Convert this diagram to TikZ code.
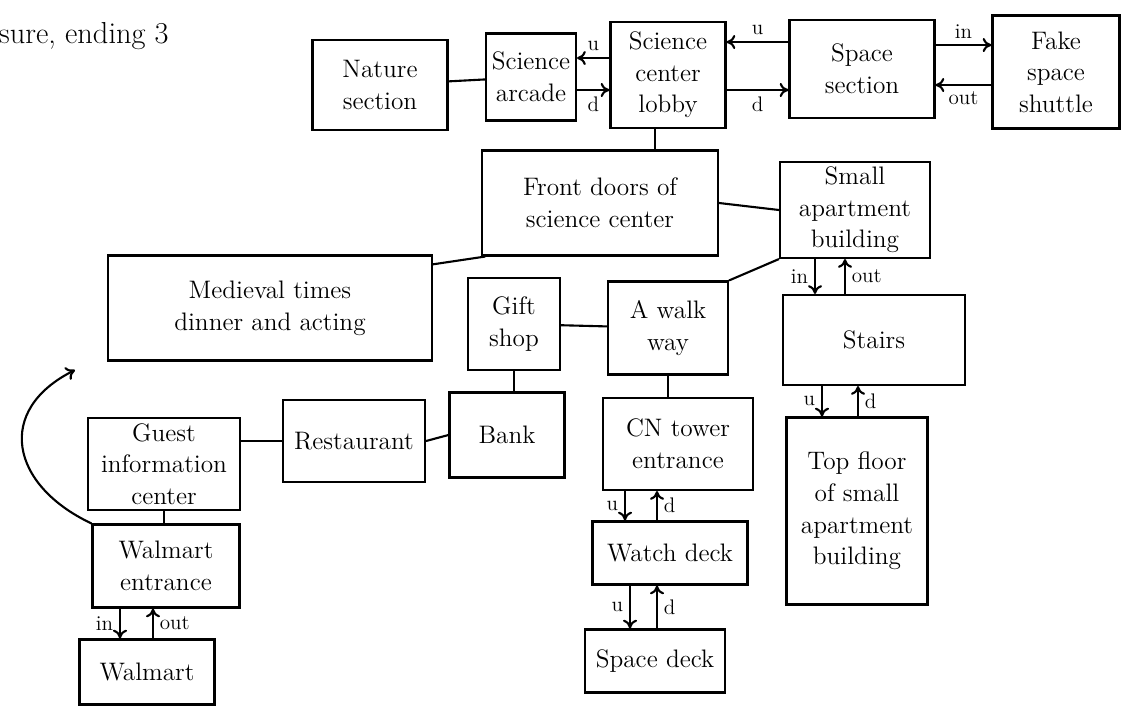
\documentclass[tikz,border=0pt]{standalone}
\usepackage{tikz}
\usetikzlibrary{arrows.meta}

\begin{document}
\begin{tikzpicture}[x=0.02cm, y=-0.02cm, line width=1.2pt,
	room/.style={draw, align=center, font=\Large, inner sep=2pt},
	arr/.style={-{To[length=5pt,width=8pt]}},
	every label/.style={font=\large}]
	\useasboundingbox (0,0) rectangle (1134,714);
	\node[anchor=west, font=\LARGE] (note) at (-8,36) {sure, ending 3};
	% science center
	\node[room, minimum width=2.7cm, minimum height=1.8cm] (nature) at (380,85) {Nature\\section};
	\node[room, minimum width=1.8cm, minimum height=1.74cm] (arcade) at (531,77) {Science\\arcade};
	\node[room, minimum width=2.3cm, minimum height=2.12cm] (lobby) at (668,75) {Science\\center\\lobby};
	\node[room, minimum width=2.9cm, minimum height=1.96cm] (space) at (862,69) {Space\\section};
	\node[room, minimum width=2.54cm, minimum height=2.26cm] (shuttle) at (1056,72) {Fake\\space\\shuttle};
	\node[room, minimum width=4.72cm, minimum height=2.1cm] (front) at (600,203) {Front doors of\\science center};
	\node[room, minimum width=3cm, minimum height=1.92cm] (apart) at (855,210) {Small\\apartment\\building};
	\node[room, minimum width=6.48cm, minimum height=2.1cm] (medieval) at (270,308) {Medieval times\\dinner and acting};
	\node[room, minimum width=1.84cm, minimum height=1.84cm] (gift) at (514,324) {Gift\\shop};
	\node[room, minimum width=2.4cm, minimum height=1.86cm] (walkway) at (668,328) {A walk\\way};
	\node[room, minimum width=3.64cm, minimum height=1.8cm] (stairs) at (874,340) {Stairs};
	% lower part
	\node[room, minimum width=3.04cm, minimum height=1.84cm] (guest) at (164,464) {Guest\\information\\center};
	\node[room, minimum width=2.84cm, minimum height=1.64cm] (restaurant) at (354,441) {Restaurant};
	\node[room, minimum width=2.3cm, minimum height=1.7cm] (bank) at (507,435) {Bank};
	\node[room, minimum width=3cm, minimum height=1.84cm] (cn) at (678,444) {CN tower\\entrance};
	\node[room, minimum width=3.1cm, minimum height=1.26cm] (watch) at (670,553) {Watch deck};
	\node[room, minimum width=2.8cm, minimum height=1.26cm] (sdeck) at (655,661) {Space deck};
	\node[room, minimum width=2.82cm, minimum height=3.74cm] (top) at (857,511) {Top floor\\of small\\apartment\\building};
	\node[room, minimum width=2.94cm, minimum height=1.66cm] (wentr) at (166,566) {Walmart\\entrance};
	\node[room, minimum width=2.7cm, minimum height=1.3cm] (walmart) at (147,672) {Walmart};
	\coordinate (loop) at (75,370);

	% plain links
	\draw (nature) -- (arcade);
	\draw ([xshift=-.26cm]lobby.south) -- ([xshift=-.26cm]lobby.south |- front.north);
	\draw (front.east) -- (apart.west);
	\draw (front.205) -- (medieval.15);
	\draw (walkway.north east) -- (apart.south west);
	\draw (gift) -- (walkway);
	\draw (gift.south) -- (gift.south |- bank.north);
	\draw (walkway.south) -- (walkway.south |- cn.north);
	\draw (bank.west) -- (restaurant.east);
	\draw (restaurant.west) -- (restaurant.west -| guest.east);
	\draw (guest.south) -- (guest.south |- wentr.north);
	\draw[arr] (wentr.north west) .. controls (10,485) and (-5,410) .. (loop);

	% up and down
	\draw[arr] ([yshift=.34cm]lobby.west) -- ([yshift=.34cm]lobby.west -| arcade.east) node[midway, above, font=\large] {u};
	\draw[arr] ([yshift=-.3cm]lobby.west -| arcade.east) -- ([yshift=-.3cm]lobby.west) node[midway, below, font=\large] {d};
	\draw[arr] ([yshift=.54cm]space.west) -- ([yshift=.54cm]space.west -| lobby.east) node[midway, above, font=\large] {u};
	\draw[arr] ([yshift=-.42cm]space.west -| lobby.east) -- ([yshift=-.42cm]space.west) node[midway, below, font=\large] {d};
	\draw[arr] ([yshift=.48cm]space.east) -- ([yshift=.48cm]space.east -| shuttle.west) node[midway, above, font=\large] {in};
	\draw[arr] ([yshift=-.32cm]space.east -| shuttle.west) -- ([yshift=-.32cm]space.east) node[midway, below, font=\large] {out};
	\foreach \a/\b/\d/\e/\l/\r in {apart/stairs/-40/-10/in/out, stairs/top/-52/-16/u/d, cn/watch/-53/-21/u/d, watch/sdeck/-40/-13/u/d, wentr/walmart/-46/-13/in/out} {
	\draw[arr] ([xshift=\d*0.02cm]\a.south) -- ([xshift=\d*0.02cm]\a.south |- \b.north) node[midway, left, font=\large] {\l};
	\draw[arr] ([xshift=\e*0.02cm]\a.south |- \b.north) -- ([xshift=\e*0.02cm]\a.south) node[midway, right, font=\large] {\r};
	}
\end{tikzpicture}
\end{document}
